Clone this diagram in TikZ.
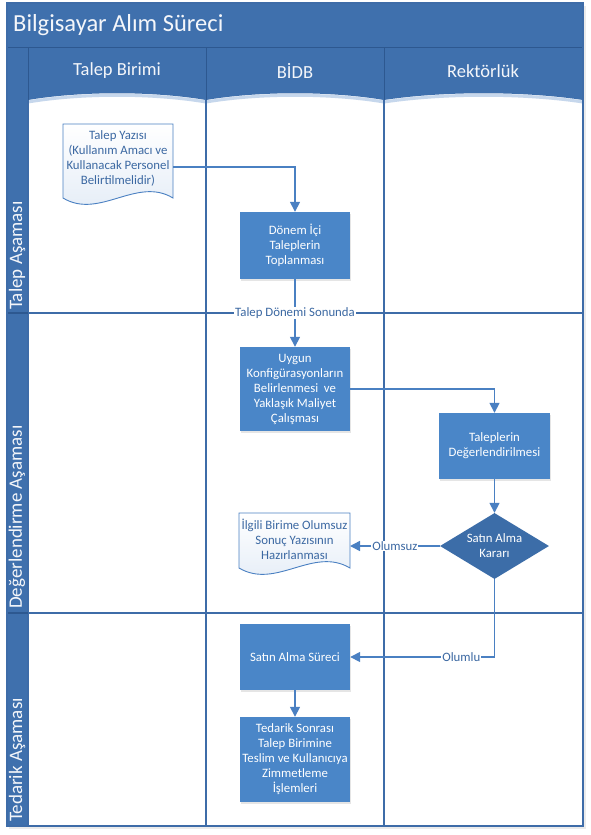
\documentclass[tikz,border=0pt]{standalone}
\usepackage{fontspec}
\setmainfont{Carlito}
\usetikzlibrary{arrows.meta,shapes.geometric,shadows}
\definecolor{hdr}{HTML}{3F70AD}
\definecolor{hdrline}{HTML}{2D5890}
\definecolor{boxc}{HTML}{4A86C8}
\definecolor{diac}{HTML}{3C6DA8}
\definecolor{conn}{HTML}{4A80C2}
\definecolor{lanec}{HTML}{3E6CA8}
\definecolor{doctext}{HTML}{3B68A2}
\definecolor{docfill}{HTML}{E2EBF6}
\definecolor{glow}{HTML}{C6D7EC}
\begin{document}
\begin{tikzpicture}[x=1pt,y=-1pt,
  boxfont/.style={font=\fontsize{12.8}{15}\selectfont},
  procbox/.style={boxfont, fill=boxc, text=white, align=center, inner sep=0pt,
    minimum width=110pt, drop shadow={shadow xshift=1pt,shadow yshift=-1.5pt,opacity=.2,fill=black!50}},
  decision/.style={boxfont, diamond, aspect=1.65, fill=diac, text=white, align=center, inner sep=0pt,
    minimum width=109pt, minimum height=66pt},
  docshape/.style={draw=conn, line width=0.9pt, top color=white, bottom color=docfill},
  doctxt/.style={boxfont, text=doctext, align=center, inner sep=0pt},
  flow/.style={draw=conn, line width=1.5pt, -{Triangle[length=10pt,width=10pt]}},
  lbl/.style={boxfont, text=doctext, fill=white, inner sep=1pt},
  lanetitle/.style={font=\fontsize{18.5}{20}\selectfont, text=white!94!hdr, inner sep=0pt},
  phasetitle/.style={font=\fontsize{19}{20}\selectfont, text=white!94!hdr, inner sep=0pt, rotate=90, anchor=west},
  laneline/.style={draw=lanec, line width=1.2pt}
]
\useasboundingbox (0,0) rectangle (590,835);
\fill[white] (0,0) rectangle (590,835);
% frame shadow
\fill[black!8] (9,6) rectangle (586,829);
% title band
\fill[hdr] (7,3) rectangle (583,47);
\node[font=\fontsize{24.5}{26}\selectfont, text=white!94!hdr, inner sep=0pt, anchor=west] (title) at (13,25) {Bilgisayar Alım Süreci};
% lanes background
\fill[white] (28,47) rectangle (583,826);
% left phase column
\fill[hdr] (7,47) rectangle (28,826);
% header glow
\draw[glow, line width=3pt] (583,102) .. controls (523.3,93) and (443.7,93) .. (384,102)
  .. controls (330.6,93) and (259.4,93) .. (206,102)
  .. controls (152.6,93) and (81.4,93) .. (28,102);
% lane header band
\fill[hdr] (28,47) -- (583,47) -- (583,100) .. controls (523.3,91) and (443.7,91) .. (384,100)
  .. controls (330.6,91) and (259.4,91) .. (206,100)
  .. controls (152.6,91) and (81.4,91) .. (28,100) -- cycle;
\draw[hdrline, line width=1pt] (7,47) -- (583,47);
\draw[hdrline, line width=1pt] (206,47) -- (206,100) (384,47) -- (384,100) (28,47) -- (28,100);
\node[lanetitle] (l1) at (117,71) {Talep Birimi};
\node[lanetitle] (l2) at (295,71) {BİDB};
\node[lanetitle] (l3) at (483,71) {Rektörlük};
% lane lines
\draw[laneline] (28,100) -- (28,826) (206,100) -- (206,826) (384,100) -- (384,826);
\draw[laneline] (28,313) -- (583,313) (28,613) -- (583,613);
\draw[hdrline, line width=1.2pt] (7,313) -- (28,313) (7,613) -- (28,613);
% outer frame
\draw[lanec, line width=1.4pt] (7,3) rectangle (583,826);
% phase titles
\node[phasetitle] (p1) at (17,310) {Talep Aşaması};
\node[phasetitle] (p2) at (17,609) {Değerlendirme Aşaması};
\node[phasetitle] (p3) at (17,822) {Tedarik Aşaması};
% documents
\draw[docshape] (63,124) -- (173,124) -- (173,198) .. controls (136.7,176) and (99.3,220) .. (63,198) -- cycle;
\node[doctxt] (doc1) at (118,158.5) {Talep Yazısı\\(Kullanım Amacı ve\\Kullanacak Personel\\Belirtilmelidir)};
\coordinate (doc1out) at (173,167);
\draw[docshape] (239,513) -- (350,513) -- (350,568) .. controls (313,546) and (276,590) .. (239,568) -- cycle;
\node[doctxt] (doc2) at (294.5,539) {İlgili Birime Olumsuz\\Sonuç Yazısının\\Hazırlanması};
\coordinate (doc2in) at (350,546);
% process boxes
\node[procbox, minimum height=67pt] (b1) at (295,245.5) {Dönem İçi\\Taleplerin\\Toplanması};
\node[procbox, minimum height=84pt] (b2) at (295,389) {Uygun\\Konfigürasyonların\\Belirlenmesi\ \ ve\\Yaklaşık Maliyet\\Çalışması};
\node[procbox, minimum height=66pt, minimum width=111pt] (b3) at (494.5,446) {Taleplerin\\Değerlendirilmesi};
\node[decision] (d1) at (494.5,546) {Satın Alma\\Kararı};
\node[procbox, minimum height=66pt] (b4) at (295,657) {Satın Alma Süreci};
\node[procbox, minimum height=85pt] (b5) at (295,759.5) {Tedarik Sonrası\\Talep Birimine\\Teslim ve Kullanıcıya\\Zimmetleme\\İşlemleri};
% connectors
\draw[flow] (doc1out) -| (b1.north);
\draw[flow] (b1.south) -- node[lbl, pos=0.5] {Talep Dönemi Sonunda} (b2.north);
\draw[flow] (b2.east) -| (b3.north);
\draw[flow] (b3.south) -- (d1.north);
\draw[flow] (d1.west) -- node[lbl, pos=0.5] {Olumsuz} (doc2in);
\draw[flow] (d1.south) |- node[lbl, pos=0.615] {Olumlu} (b4.east);
\draw[flow] (b4.south) -- (b5.north);
\end{tikzpicture}
\end{document}
